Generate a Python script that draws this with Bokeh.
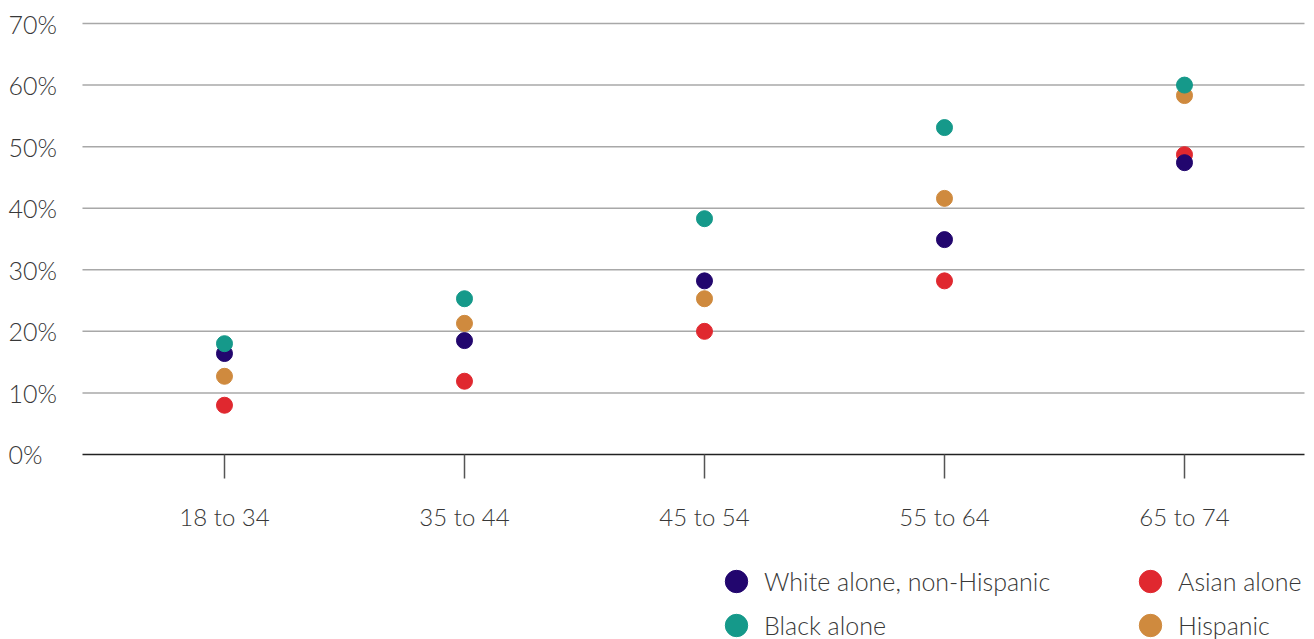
from bokeh.plotting import figure
from bokeh.models import ColumnDataSource, FixedTicker, Legend, LegendItem, Range1d
from bokeh.core.properties import value
from bokeh.embed import file_html
from bokeh.resources import INLINE

# ---- data -------------------------------------------------------------
age_groups = ["18 to 34", "35 to 44", "45 to 54", "55 to 64", "65 to 74"]
white_non_hispanic = [16.4, 18.5, 28.2, 34.9, 47.4]
black_alone = [18.0, 25.3, 38.3, 53.1, 60.0]
asian_alone = [8.0, 11.9, 20.0, 28.2, 48.7]
hispanic = [12.7, 21.3, 25.3, 41.6, 58.3]

y_ticks = [0, 10, 20, 30, 40, 50, 60, 70]
y_tick_labels = ["0%", "10%", "20%", "30%", "40%", "50%", "60%", "70%"]

# ---- styles / layout --------------------------------------------------
FONT = "Lato Light"
TEXT = "#383838"
C_WHITE = "#22066e"
C_BLACK = "#15998a"
C_ASIAN = "#e0282f"
C_HISP = "#cf8a3e"

X_LEFT, X_RIGHT = -0.5917, 4.5      # extent of the plotting area (grid / axis)
X_LABEL = -0.9                      # left edge of the y tick labels

xs = list(range(len(age_groups)))
src = ColumnDataSource(dict(
    x=xs,
    white=white_non_hispanic,
    black=black_alone,
    asian=asian_alone,
    hisp=hispanic,
))

p = figure(
    width=1314, height=639, min_border=0, title=None,
    x_range=Range1d(-0.9333, 4.5417), y_range=Range1d(-30.05, 73.74),
    y_axis_location=None,
    output_backend="svg", toolbar_location=None,
)
p.outline_line_color = None
p.grid.visible = False

# x axis drawn at 0 %
p.xaxis.fixed_location = 0
p.xaxis.bounds = (X_LEFT, X_RIGHT)
p.xaxis.ticker = FixedTicker(ticks=xs)
p.xaxis.major_label_overrides = {i: g for i, g in enumerate(age_groups)}
p.xaxis.major_tick_in = 0
p.xaxis.major_tick_out = 24
p.xaxis.major_tick_line_color = "#555555"
p.xaxis.major_tick_line_width = 1.5
p.xaxis.minor_tick_line_color = None
p.xaxis.axis_line_color = "#222222"
p.xaxis.axis_line_width = 1.5
p.xaxis.major_label_text_font = FONT
p.xaxis.major_label_text_font_size = "24px"
p.xaxis.major_label_text_color = TEXT
p.xaxis.major_label_standoff = 24

# horizontal grid lines and left-aligned y tick labels
grid_src = ColumnDataSource(dict(y=y_ticks[1:]))
p.segment(x0=X_LEFT, x1=X_RIGHT, y0="y", y1="y", source=grid_src,
          line_color="#a8a8a8", line_width=1.5)
ylab_src = ColumnDataSource(dict(y=y_ticks, label=y_tick_labels))
p.text(x=X_LABEL, y="y", text="label", source=ylab_src,
       text_align="left", text_baseline="middle",
       text_font=value(FONT), text_font_size="25px", text_color=TEXT)

# points (draw order matters for overlaps)
r_asian = p.scatter("x", "asian", source=src, size=16, fill_color=C_ASIAN, line_color=C_ASIAN)
r_white = p.scatter("x", "white", source=src, size=16, fill_color=C_WHITE, line_color=C_WHITE)
r_hisp = p.scatter("x", "hisp", source=src, size=16, fill_color=C_HISP, line_color=C_HISP)
r_black = p.scatter("x", "black", source=src, size=16, fill_color=C_BLACK, line_color=C_BLACK)

# legend: two columns x two rows, one Legend per entry
legend_style = dict(
    glyph_width=56, glyph_height=60, label_standoff=0,
    padding=0, margin=0, border_line_color=None, background_fill_alpha=0,
    label_text_font=FONT, label_text_font_size="25px", label_text_color=TEXT,
)
legend_entries = [
    ("White alone, non-Hispanic", r_white, (708, 28)),
    ("Black alone", r_black, (708, -16)),
    ("Asian alone", r_asian, (1122, 28)),
    ("Hispanic", r_hisp, (1122, -16)),
]
for label, rend, loc in legend_entries:
    p.add_layout(Legend(items=[LegendItem(label=label, renderers=[rend])],
                        location=loc, **legend_style))

open("out.html", "w").write(file_html(p, INLINE))
